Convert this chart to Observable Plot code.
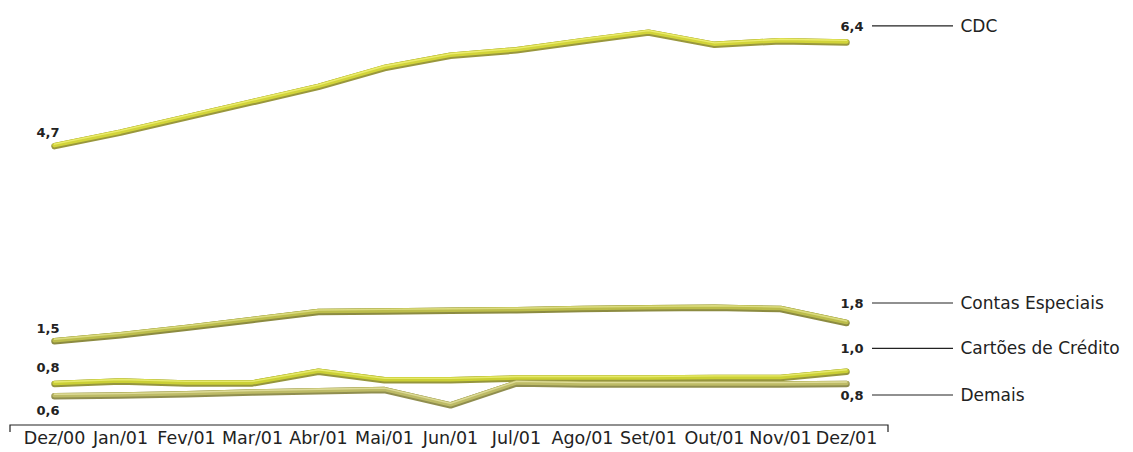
<!DOCTYPE html>
<html><head><meta charset="utf-8">
<script src="https://cdn.jsdelivr.net/npm/d3@7"></script>
<script src="https://cdn.jsdelivr.net/npm/@observablehq/plot@0.6"></script>
<style>body{margin:0;background:#fff}</style>
</head><body><div id="chart"></div>
<script>
const months = ["Dez/00","Jan/01","Fev/01","Mar/01","Abr/01","Mai/01","Jun/01","Jul/01","Ago/01","Set/01","Out/01","Nov/01","Dez/01"];
const seriesNames = ["CDC","Contas Especiais","Cartões de Crédito","Demais"];
const cdc     = [4.7, 4.92, 5.17, 5.42, 5.67, 5.98, 6.18, 6.27, 6.42, 6.56, 6.36, 6.42, 6.4];
const contas  = [1.5, 1.60, 1.72, 1.85, 1.98, 1.99, 2.00, 2.01, 2.03, 2.04, 2.05, 2.03, 1.8];
const cartoes = [0.8, 0.84, 0.81, 0.81, 1.00, 0.86, 0.86, 0.89, 0.89, 0.89, 0.90, 0.90, 1.0];
const demais  = [0.6, 0.61, 0.63, 0.66, 0.68, 0.70, 0.45, 0.81, 0.79, 0.79, 0.79, 0.79, 0.8];
const seriesValues = [cdc, contas, cartoes, demais];

const rows = [];
seriesNames.forEach((name, i) => seriesValues[i].forEach((v, j) => rows.push({series: name, month: months[j], value: v})));

const fmt = v => d3.format(".1f")(v).replace(".", ",");

const style = {
  "CDC":               {main: "#d2d43a", dark: "#8e8c28", light: "#f2f27e", startDy: -12.5, endDy: -15},
  "Contas Especiais":  {main: "#bcbd4c", dark: "#7f7e2c", light: "#e4e48e", startDy: -11,   endDy: -18.5},
  "Cartões de Crédito":{main: "#cbd036", dark: "#8a8a28", light: "#eef07c", startDy: -15,   endDy: -22},
  "Demais":            {main: "#bdbb66", dark: "#84823c", light: "#e6e4a6", startDy: 16,    endDy: 12.5}
};

const marks = [];
// axis line with end ticks
marks.push((index, scales, values, dim) => {
  const g = d3.create("svg:g").attr("stroke", "#222").attr("stroke-width", 1.2).attr("fill", "none");
  const yb = dim.height - dim.marginBottom;
  const x1 = dim.marginLeft, x2 = dim.width - dim.marginRight;
  g.append("path").attr("d", `M${x1},${yb + 7}V${yb}H${x2}V${yb + 7}`);
  return g.node();
});

for (const name of seriesNames) {
  const s = style[name];
  const data = rows.filter(d => d.series === name);
  const first = data[0], last = data[data.length - 1];
  marks.push(Plot.line(data, {x: "month", y: "value", stroke: s.dark, strokeWidth: 6.5, dy: 1, strokeLinejoin: "round", strokeLinecap: "round", strokeOpacity: 0.9}));
  marks.push(Plot.line(data, {x: "month", y: "value", stroke: s.main, strokeWidth: 4.5, strokeLinejoin: "round", strokeLinecap: "round"}));
  marks.push(Plot.line(data, {x: "month", y: "value", stroke: s.light, strokeWidth: 1.4, dy: -1, strokeOpacity: 0.8, strokeLinejoin: "round", strokeLinecap: "round"}));
  marks.push(Plot.text([first], {x: "month", y: "value", text: d => fmt(d.value), dx: 5, dy: s.startDy, textAnchor: "end", fontWeight: "bold", fontSize: 13, fill: "#222"}));
  marks.push(Plot.text([last], {x: "month", y: "value", text: d => fmt(d.value), dx: -6, dy: s.endDy, textAnchor: "start", fontWeight: "bold", fontSize: 13, fill: "#222"}));
  marks.push(Plot.text([last], {x: "month", y: "value", text: "series", dx: 114, dy: s.endDy, textAnchor: "start", fontSize: 17, fill: "#222"}));
  marks.push((index, scales) => {
    const xx = scales.x(last.month), yy = scales.y(last.value) + s.endDy;
    const g = d3.create("svg:g");
    g.append("line").attr("x1", xx + 26).attr("x2", xx + 107).attr("y1", yy).attr("y2", yy)
      .attr("stroke", "#222").attr("stroke-width", 1.2);
    return g.node();
  });
}

marks.push(Plot.text(months, {x: d => d, frameAnchor: "bottom", dy: 18, fontSize: 17.5, fill: "#222"}));

const chart = Plot.plot({
  width: 1133,
  height: 452,
  marginLeft: 10,
  marginRight: 245,
  marginTop: 0,
  marginBottom: 27,
  x: {type: "point", domain: months, range: [48, 851], padding: 0, axis: null},
  y: {type: "linear", domain: [0, 7], range: [431.3, 4.3], axis: null},
  style: {fontFamily: "'DejaVu Sans', sans-serif", background: "#fff", color: "#222", overflow: "visible"},
  marks
});
document.getElementById("chart").appendChild(chart);
</script>
</body></html>
